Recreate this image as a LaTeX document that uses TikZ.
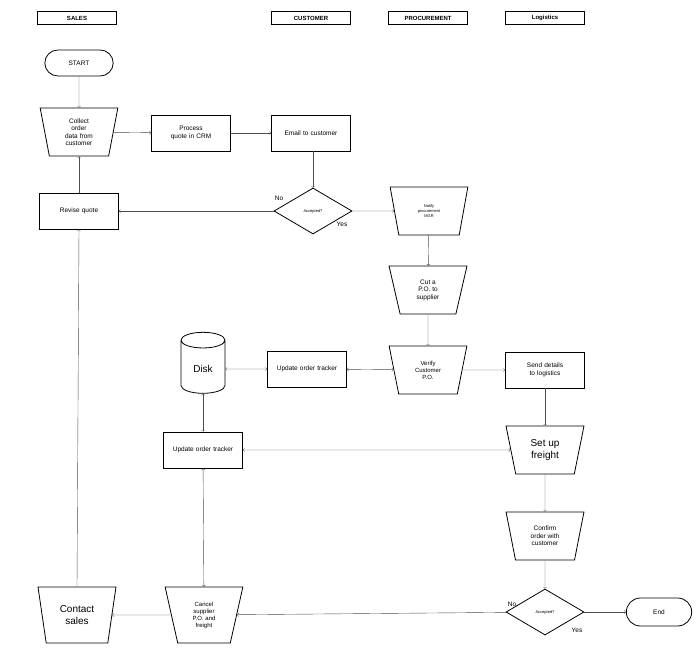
\documentclass[tikz,border=0pt]{standalone}
\usepackage{fontspec}
\setmainfont{Liberation Sans}
\usetikzlibrary{shapes.geometric,shapes.symbols,shapes.misc}
\begin{document}
\begin{tikzpicture}[
    x=1pt, y=-1pt,
    font=\fontsize{6.5}{7.5}\selectfont,
    thick,
    box/.style={draw=black, thick, rectangle, minimum width=79pt, minimum height=36pt, align=center, text width=62pt},
    lane/.style={draw=black, thick, rectangle, minimum width=79pt, minimum height=13pt, font=\fontsize{6}{7}\selectfont\bfseries},
    manual/.style={draw=black, thick, trapezium, trapezium angle=78, trapezium stretches=true, shape border rotate=180, minimum width=78pt, minimum height=48pt, align=center},
    decide/.style={draw=black, thick, diamond, aspect=1.7, minimum width=78pt, minimum height=46pt, inner sep=0pt, font=\fontsize{4}{5}\selectfont},
    term/.style={draw=black, thick, rounded rectangle, minimum width=75pt, minimum height=26pt},
    flow/.style={->, thin, draw=black!70},
    both/.style={<->, thin, draw=black!70}]
    \useasboundingbox (0,0) rectangle (700,647);
    % lanes
    \node[lane] (Lsales) at (77,18) {SALES};
    \node[lane] (Lcust) at (311,18) {CUSTOMER};
    \node[lane] (Lproc) at (428,18) {PROCUREMENT};
    \node[lane] (Llog) at (545,18) {Logistics};
    % nodes
    \node[term] (start) at (79,63) {START};
    \node[manual, text width=40pt] (collect) at (79,132) {Collect\\order\\data from\\customer};
    \node[box] (process) at (191,133) {Process quote in CRM};
    \node[box] (email) at (311,133) {Email to customer};
    \node[decide] (acc) at (313,211) {Accepted?};
    \node[box] (revise) at (79,211) {Revise quote};
    \node[manual, font=\fontsize{4}{5}\selectfont] (notify) at (429,211) {Notify\\procurement\\MGR};
    \node[manual] (cut) at (428,290) {Cut a\\P.O. to\\supplier};
    \node[manual, font=\fontsize{6}{7}\selectfont] (verify) at (428,370) {Verify\\Customer\\P.O.};
    \node[box] (send) at (545,370) {Send details to logistics};
    \node[box] (upd1) at (307,369) {Update order tracker};
    \node[draw=black, thick, cylinder, shape border rotate=90, aspect=0.6, minimum width=44pt, minimum height=61pt, font=\fontsize{10}{12}\selectfont] (disk) at (203,369) {Disk};
    \node[box] (upd2) at (203,450) {Update order tracker};
    \node[manual, font=\fontsize{10}{12}\selectfont] (freight) at (545,450) {Set up\\freight};
    \node[manual] (confirm) at (545,536) {Confirm\\order with\\customer};
    \node[decide] (acc2) at (545,612) {Accepted?};
    \node[term, minimum width=72pt, minimum height=28pt] (end) at (659,612) {End};
    \node[manual, minimum height=56pt, font=\fontsize{6}{7}\selectfont] (cancel) at (204,615) {Cancel\\supplier\\P.O. and\\freight};
    \node[manual, minimum height=56pt, font=\fontsize{10}{12}\selectfont] (contact) at (77,615) {Contact\\sales};
    % labels
    \node (no1) at (279,198) {No};
    \node (yes1) at (342,224) {Yes};
    \node (no2) at (512,604) {No};
    \node (yes2) at (577,630) {Yes};
    % arrows
    \draw[flow] (start) -- (collect);
    \draw[flow] (collect) -- (process);
    \draw[flow] (process) -- (email);
    \draw[flow] (email.south -| acc.north) -- (acc);
    \draw[flow] (acc) -- (revise);
    \draw[flow] (acc) -- (notify);
    \draw[flow] (revise) -- (collect);
    \draw[flow] (notify) -- (cut);
    \draw[flow] (cut) -- (verify);
    \draw[flow] (verify) -- (send);
    \draw[both] (disk) -- (upd1);
    \draw[both] (upd1) -- (verify);
    \draw[both] (disk) -- (upd2);
    \draw[both] (upd2) -- (freight);
    \draw[both] (upd2) -- (cancel);
    \draw[flow] (send) -- (freight);
    \draw[flow] (freight) -- (confirm);
    \draw[flow] (confirm) -- (acc2);
    \draw[flow] (acc2) -- (end);
    \draw[flow] (acc2) -- (cancel);
    \draw[flow] (cancel) -- (contact);
    \draw[flow] (contact.north) -- (revise.south);
\end{tikzpicture}
\end{document}
